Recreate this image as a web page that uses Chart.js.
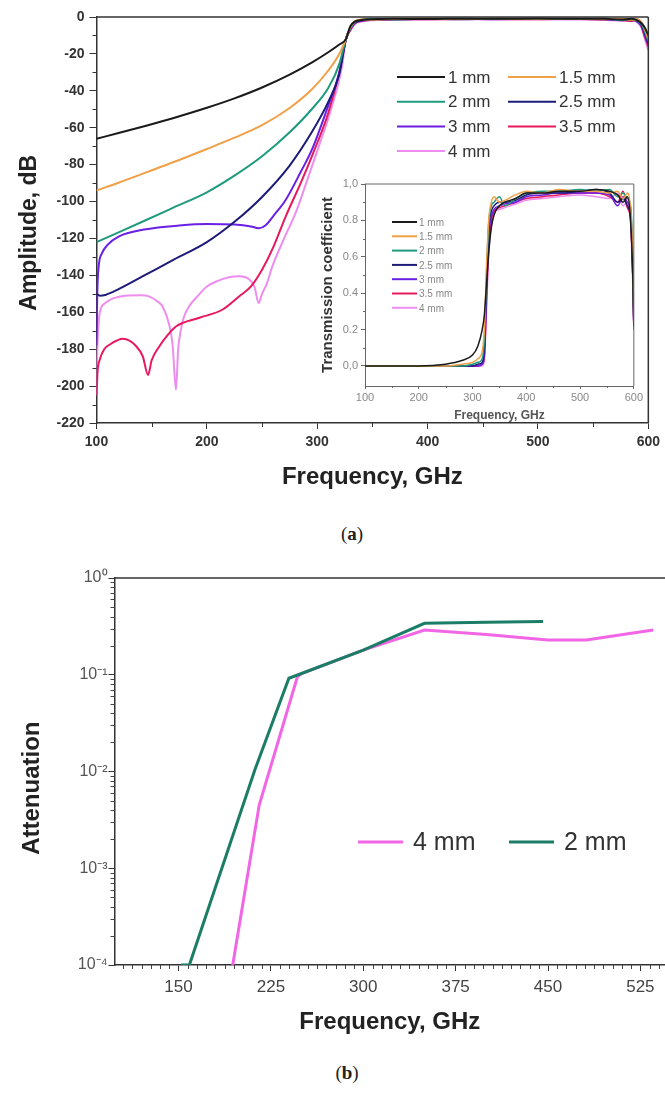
<!DOCTYPE html>
<html>
<head>
<meta charset="utf-8">
<script src="https://cdn.jsdelivr.net/npm/chart.js@4.4.1/dist/chart.umd.min.js"></script>
<style>
  body { margin: 0; background: #fff; width: 665px; height: 1106px; position: relative; overflow: hidden; }
  .box { position: absolute; }
  .cap { position: absolute; font-family: "Liberation Serif", "DejaVu Serif", serif; font-size: 19px; color: #222; transform: translate(-50%, -50%); }
</style>
</head>
<body>
<div class="box" style="left:0;top:0"><canvas id="main" width="665" height="500"></canvas></div>
<div class="box" style="left:300px;top:172px"><canvas id="inset" width="345" height="252"></canvas></div>
<div class="cap" style="left:352px;top:534px">(<b>a</b>)</div>
<div class="box" style="left:0;top:560px"><canvas id="atten" width="665" height="480"></canvas></div>
<div class="cap" style="left:347px;top:1073px">(<b>b</b>)</div>
<script>
const FONT = '"Liberation Sans", Arial, sans-serif';

// ---- (a) amplitude vs frequency ----
const labels = ["1 mm", "1.5 mm", "2 mm", "2.5 mm", "3 mm", "3.5 mm", "4 mm"];
const colors = ["#1a1a1a", "#f0a048", "#1f9a7e", "#1c1c78", "#6a1fe4", "#e8185c", "#ef8cef"];

const passFreq = [330, 334, 340, 350, 370, 400, 430, 460, 500, 530, 560, 575, 585, 590, 594, 597, 600];

const stopFreq1 = [100, 120, 145, 170, 200, 225, 250, 275, 295, 310, 320, 326];
const stopAmp1 = [-66, -62.9, -58.9, -54.7, -49.2, -44.1, -38.2, -31.2, -24.7, -19.1, -14.9, -12];
const passAmp1 = [-5, -2.5, -1.6, -1.2, -1, -1.1, -0.9, -1, -0.8, -1, -0.9, -1.4, -1, -1.8, -3.5, -6, -10];

const stopFreq15 = [100, 120, 145, 170, 200, 225, 250, 275, 295, 310, 320, 326];
const stopAmp15 = [-94, -89.8, -84.2, -78.6, -71.5, -65.4, -58.6, -49.3, -39.3, -29, -20, -12];
const passAmp15 = [-5.5, -2.3, -1.3, -1.5, -0.9, -0.8, -1.1, -0.8, -1, -0.8, -1.2, -0.9, -1.5, -1.2, -3, -7, -12];

const stopFreq2 = [100, 120, 145, 170, 200, 225, 250, 275, 295, 310, 320, 326];
const stopAmp2 = [-122, -116.7, -110, -103.2, -95, -86, -75.5, -62.5, -50, -38.5, -25.5, -12];
const passAmp2 = [-6, -2.8, -1.5, -1, -1.3, -0.9, -0.8, -1, -0.9, -1.1, -0.8, -1.6, -1.1, -2, -4, -8, -13];

const stopFreq25 = [100, 103, 108, 120, 145, 170, 200, 225, 250, 275, 295, 310, 320, 326];
const stopAmp25 = [-150, -151, -150.6, -147.5, -139.5, -131.5, -122, -111, -97.5, -80.5, -62.5, -46, -31, -12];
const passAmp25 = [-6, -3, -1.8, -1.4, -1.1, -1, -1.2, -0.9, -1, -0.9, -1.1, -1.3, -1.8, -1.4, -4.5, -9, -14];

const stopFreq3 = [100, 100.7, 102, 105, 110, 120, 145, 175, 200, 225, 240, 247, 253, 260, 271.5, 285, 295.5, 310, 320, 326];
const stopAmp3 = [-178, -150, -135, -128, -123.5, -119, -115, -113, -112.2, -112.5, -113.5, -114.5, -113, -108, -99, -84, -71.5, -48, -30, -12];
const passAmp3 = [-6.5, -3.2, -2, -1.6, -1.2, -1.1, -1, -1.2, -1, -1.1, -1.3, -1.8, -1.2, -2.5, -5, -10, -15];

const stopFreq35 = [100, 101, 103, 107, 112, 124, 136, 142, 146.7, 150, 157, 165, 172.3, 193.3, 214.3, 229.4, 240, 250, 260, 271.5, 285, 295.5, 310, 320, 326];
const stopAmp35 = [-205, -192, -185.6, -180, -177.5, -174.4, -178.4, -184, -194, -186, -178.4, -172, -167.6, -163, -158.5, -151.3, -146, -137, -125, -108, -90, -75, -52, -30, -12];
const passAmp35 = [-7, -3.5, -2.2, -1.5, -1.3, -1.2, -1.1, -1.1, -1.2, -1, -1.4, -1.6, -2.2, -1.5, -5.5, -11, -16];

const stopFreq4 = [100, 100.5, 101.5, 103, 108, 115, 126, 140, 148, 155, 160, 166, 169, 172, 174, 176, 179, 184, 192, 200, 210, 220, 230, 238, 243, 247, 250, 254, 259.4, 270, 280.5, 290, 301.5, 312, 322.5, 326];
const stopAmp4 = [-205, -185, -170, -160, -155, -152.5, -151, -150.8, -151.5, -154, -157, -167, -178, -202, -180, -171, -163, -156.7, -151, -146, -143, -141, -140.5, -142, -146, -155, -150, -145, -135, -120, -106, -90, -70, -51, -26.7, -12];
const passAmp4 = [-7.5, -3.8, -2.4, -1.8, -1.4, -1.3, -1.2, -1.3, -1.2, -1.3, -1.5, -2, -1.6, -3, -6, -12, -18];

const stopFreqs = [stopFreq1, stopFreq15, stopFreq2, stopFreq25, stopFreq3, stopFreq35, stopFreq4];
const stopAmps = [stopAmp1, stopAmp15, stopAmp2, stopAmp25, stopAmp3, stopAmp35, stopAmp4];
const passAmps = [passAmp1, passAmp15, passAmp2, passAmp25, passAmp3, passAmp35, passAmp4];

// ---- inset: transmission coefficient ----
const insetFreq = [100, 200, 250, 280, 300, 310, 318, 322, 326, 330, 335, 340, 350, 360, 380, 400, 430, 460, 500, 530, 555, 570, 580, 588, 594, 598, 600];
const trans1 = [0, 0, 0.01, 0.03, 0.06, 0.11, 0.2, 0.28, 0.45, 0.62, 0.76, 0.83, 0.88, 0.9, 0.92, 0.95, 0.95, 0.96, 0.96, 0.97, 0.96, 0.94, 0.9, 0.93, 0.8, 0.5, 0.22];
const trans15 = [0, 0, 0, 0.01, 0.02, 0.04, 0.08, 0.2, 0.55, 0.8, 0.9, 0.93, 0.9, 0.91, 0.94, 0.96, 0.95, 0.97, 0.96, 0.96, 0.95, 0.96, 0.92, 0.95, 0.86, 0.6, 0.25];
const trans2 = [0, 0, 0, 0, 0.01, 0.02, 0.04, 0.15, 0.5, 0.78, 0.88, 0.9, 0.93, 0.88, 0.92, 0.95, 0.96, 0.96, 0.97, 0.96, 0.97, 0.93, 0.95, 0.92, 0.88, 0.6, 0.24];
const trans25 = [0, 0, 0, 0, 0, 0.01, 0.02, 0.1, 0.45, 0.75, 0.85, 0.88, 0.9, 0.9, 0.91, 0.94, 0.95, 0.95, 0.96, 0.97, 0.95, 0.9, 0.92, 0.88, 0.82, 0.5, 0.22];
const trans3 = [0, 0, 0, 0, 0, 0, 0.01, 0.06, 0.4, 0.7, 0.82, 0.86, 0.88, 0.89, 0.9, 0.93, 0.94, 0.95, 0.95, 0.95, 0.94, 0.88, 0.93, 0.9, 0.84, 0.55, 0.22];
const trans35 = [0, 0, 0, 0, 0, 0, 0.01, 0.05, 0.35, 0.65, 0.8, 0.85, 0.87, 0.88, 0.9, 0.92, 0.93, 0.94, 0.95, 0.95, 0.93, 0.9, 0.96, 0.87, 0.8, 0.5, 0.2];
const trans4 = [0, 0, 0, 0, 0, 0, 0, 0.03, 0.3, 0.6, 0.78, 0.84, 0.86, 0.87, 0.89, 0.91, 0.92, 0.93, 0.94, 0.93, 0.92, 0.95, 0.88, 0.9, 0.78, 0.45, 0.2];
const transAll = [trans1, trans15, trans2, trans25, trans3, trans35, trans4];
const insetYTicks = [0, 0.2, 0.4, 0.6, 0.8, 1.0];
const insetYLabels = ["0,0", "0.2", "0.4", "0.6", "0.8", "1,0"];

// ---- (b) attenuation ----
const attFreq4 = [194, 215.5, 246.6, 250.5, 300, 349.7, 400, 449.8, 481, 535.5];
const att4 = [0.0001, 0.0045, 0.096, 0.1035, 0.18, 0.29, 0.26, 0.229, 0.229, 0.29];
const attFreq2 = [152, 158.8, 212, 239.6, 300, 349.7, 400, 446];
const att2 = [0.0001, 0.0001, 0.0104, 0.092, 0.18, 0.34, 0.348, 0.355];
const attXTicks = [150, 225, 300, 375, 450, 525];
const attYTicks = [0.0001, 0.001, 0.01, 0.1, 1];
const attYLabels = ["10\u207B\u2074", "10\u207B\u00B3", "10\u207B\u00B2", "10\u207B\u00B9", "10\u2070"];

// ---------- small helper plugins ----------
function frame(sides, color, width) {
  return {
    id: "frame",
    afterDatasetsDraw(chart) {
      const { left, right, top, bottom } = chart.chartArea;
      const ctx = chart.ctx;
      ctx.save();
      ctx.strokeStyle = color;
      ctx.lineWidth = width;
      ctx.beginPath();
      if (sides.includes("top")) { ctx.moveTo(left, top); ctx.lineTo(right, top); }
      if (sides.includes("right")) { ctx.moveTo(right, top); ctx.lineTo(right, bottom); }
      ctx.stroke();
      ctx.restore();
    },
  };
}

function minorTicks(xs, ys, len, color) {
  return {
    id: "minorTicks",
    afterDraw(chart) {
      const ctx = chart.ctx;
      const sx = chart.scales.x, sy = chart.scales.y;
      ctx.save();
      ctx.strokeStyle = color;
      ctx.lineWidth = 1;
      ctx.beginPath();
      xs.forEach((v) => {
        const p = Math.round(sx.getPixelForValue(v)) + 0.5;
        ctx.moveTo(p, sx.top);
        ctx.lineTo(p, sx.top + len);
      });
      ys.forEach((v) => {
        const p = Math.round(sy.getPixelForValue(v)) + 0.5;
        ctx.moveTo(sy.right, p);
        ctx.lineTo(sy.right - len, p);
      });
      ctx.stroke();
      ctx.restore();
    },
  };
}

function inlineLegend(cfg) {
  return {
    id: "inlineLegend",
    afterDraw(chart) {
      const ctx = chart.ctx;
      ctx.save();
      ctx.font = cfg.font;
      ctx.textBaseline = "middle";
      chart.data.datasets.forEach((ds, i) => {
        const col = i % cfg.cols;
        const row = Math.floor(i / cfg.cols);
        const x = cfg.x + col * cfg.colW;
        const y = cfg.y + row * cfg.rowH;
        ctx.strokeStyle = ds.borderColor;
        ctx.lineWidth = cfg.lineW;
        ctx.beginPath();
        ctx.moveTo(x, y);
        ctx.lineTo(x + cfg.lineLen, y);
        ctx.stroke();
        ctx.fillStyle = cfg.color;
        ctx.fillText(ds.label, x + cfg.lineLen + cfg.gap, y + 1);
      });
      ctx.restore();
    },
  };
}

const toPoints = (xs, ys) => xs.map((x, i) => ({ x: x, y: ys[i] }));

// ---------- main chart (a) ----------
const mainMinorX = [150, 250, 350, 450, 550];
const mainMinorY = [-10, -30, -50, -70, -90, -110, -130, -150, -170, -190, -210];

new Chart(document.getElementById("main"), {
  type: "line",
  data: {
    datasets: labels.map((lab, i) => ({
      label: lab,
      data: toPoints(stopFreqs[i].concat(passFreq), stopAmps[i].concat(passAmps[i])),
      borderColor: colors[i],
      borderWidth: 2,
      pointRadius: 0,
      cubicInterpolationMode: "monotone",
    })),
  },
  options: {
    responsive: false,
    animation: false,
    layout: { padding: { top: 17, right: 14, left: 0, bottom: 0 } },
    plugins: { legend: { display: false }, tooltip: { enabled: false } },
    scales: {
      x: {
        type: "linear",
        min: 100,
        max: 600,
        afterFit: (s) => { s.height = 77; },
        ticks: { stepSize: 100, padding: 5, color: "#333", font: { family: FONT, size: 14, weight: "bold" } },
        grid: { drawOnChartArea: false, tickLength: 6, color: "#333" },
        border: { color: "#333", width: 1.5 },
        title: { display: true, text: "Frequency, GHz", color: "#222", padding: { bottom: 8 }, font: { family: FONT, size: 24, weight: "bold" } },
      },
      y: {
        min: -220,
        max: 0,
        afterFit: (s) => { s.width = 96.5; },
        ticks: { stepSize: 20, padding: 5, color: "#333", callback: (v) => String(v), font: { family: FONT, size: 14, weight: "bold" } },
        grid: { drawOnChartArea: false, tickLength: 7, color: "#333" },
        border: { color: "#333", width: 1.5 },
        title: { display: true, text: "Amplitude, dB    ", color: "#222", padding: { top: 16 }, font: { family: FONT, size: 23, weight: "bold" } },
      },
    },
  },
  plugins: [
    frame(["top", "right"], "#333", 1.5),
    minorTicks(mainMinorX, mainMinorY, 4, "#333"),
    inlineLegend({ x: 397, y: 77, cols: 2, colW: 111, rowH: 24.7, lineLen: 48, gap: 3, lineW: 2, color: "#333", font: "17px " + FONT }),
  ],
});

// ---------- inset ----------
const insetMinorX = [150, 250, 350, 450, 550];
const insetMinorY = [0.1, 0.3, 0.5, 0.7, 0.9];

new Chart(document.getElementById("inset"), {
  type: "line",
  data: {
    datasets: labels.map((lab, i) => ({
      label: lab,
      data: toPoints(insetFreq, transAll[i]),
      borderColor: colors[i],
      borderWidth: 1.5,
      pointRadius: 0,
      cubicInterpolationMode: "monotone",
    })),
  },
  options: {
    responsive: false,
    animation: false,
    layout: { padding: { top: 12, right: 7, left: 0, bottom: 0 } },
    plugins: { legend: { display: false }, tooltip: { enabled: false } },
    scales: {
      x: {
        type: "linear",
        min: 100,
        max: 600,
        afterFit: (s) => { s.height = 38; },
        ticks: { stepSize: 100, padding: 2, color: "#888", font: { family: FONT, size: 11 } },
        grid: { drawOnChartArea: false, tickLength: 3, color: "#666" },
        border: { color: "#666", width: 1 },
        title: { display: true, text: "Frequency, GHz", color: "#555", padding: { bottom: 1 }, font: { family: FONT, size: 12, weight: "bold" } },
      },
      y: {
        min: -0.11,
        max: 1.0,
        afterFit: (s) => { s.width = 65; },
        afterBuildTicks: (s) => { s.ticks = insetYTicks.map((v) => ({ value: v })); },
        ticks: { padding: 3, color: "#888", callback: (v, i) => insetYLabels[i], font: { family: FONT, size: 11 } },
        grid: { drawOnChartArea: false, tickLength: 4, color: "#666" },
        border: { color: "#666", width: 1 },
        title: { display: true, text: "Transmission coefficient", color: "#333", padding: { top: 19 }, font: { family: FONT, size: 15, weight: "bold" } },
      },
    },
  },
  plugins: [
    frame(["top", "right"], "#666", 1),
    minorTicks(insetMinorX, insetMinorY, 2, "#666"),
    inlineLegend({ x: 92, y: 50, cols: 1, colW: 0, rowH: 14.3, lineLen: 25, gap: 2, lineW: 2, color: "#888", font: "10px " + FONT }),
  ],
});

// ---------- attenuation chart (b) ----------
const attMinorX = [105, 112.5, 120, 127.5, 135, 142.5, 157.5, 165, 172.5, 180, 187.5, 195, 202.5, 210, 217.5, 232.5, 240, 247.5, 255, 262.5, 270, 277.5, 285, 292.5, 307.5, 315, 322.5, 330, 337.5, 345, 352.5, 360, 367.5, 382.5, 390, 397.5, 405, 412.5, 420, 427.5, 435, 442.5, 457.5, 465, 472.5, 480, 487.5, 495, 502.5, 510, 517.5, 532.5, 540];
const attMinorY = [2e-4, 3e-4, 4e-4, 5e-4, 6e-4, 7e-4, 8e-4, 9e-4, 2e-3, 3e-3, 4e-3, 5e-3, 6e-3, 7e-3, 8e-3, 9e-3, 0.02, 0.03, 0.04, 0.05, 0.06, 0.07, 0.08, 0.09, 0.2, 0.3, 0.4, 0.5, 0.6, 0.7, 0.8, 0.9];

new Chart(document.getElementById("atten"), {
  type: "line",
  data: {
    datasets: [
      { label: "4 mm", data: toPoints(attFreq4, att4), borderColor: "#f266e6", borderWidth: 3, pointRadius: 0, order: 1 },
      { label: "2 mm", data: toPoints(attFreq2, att2), borderColor: "#1b7d66", borderWidth: 3, pointRadius: 0, order: 0 },
    ],
  },
  options: {
    responsive: false,
    animation: false,
    layout: { padding: { top: 18, right: 0, left: 0, bottom: 0 } },
    plugins: { legend: { display: false }, tooltip: { enabled: false } },
    scales: {
      x: {
        type: "linear",
        min: 98,
        max: 545,
        afterFit: (s) => { s.height = 75; },
        afterBuildTicks: (s) => { s.ticks = attXTicks.map((v) => ({ value: v })); },
        ticks: { padding: 6, color: "#444", font: { family: FONT, size: 17 } },
        grid: { drawOnChartArea: false, tickLength: 6, color: "#333" },
        border: { color: "#333", width: 1.5 },
        title: { display: true, text: "Frequency, GHz", color: "#222", padding: { bottom: 3 }, font: { family: FONT, size: 24, weight: "bold" } },
      },
      y: {
        type: "logarithmic",
        min: 0.0001,
        max: 1,
        afterFit: (s) => { s.width = 114.5; },
        afterBuildTicks: (s) => { s.ticks = attYTicks.map((v) => ({ value: v })); },
        ticks: { padding: 1, color: "#555", callback: (v, i) => attYLabels[i], font: { family: FONT, size: 16 } },
        grid: { drawOnChartArea: false, tickLength: 6, color: "#333" },
        border: { color: "#333", width: 1.5 },
        title: { display: true, text: "Attenuation     ", color: "#222", padding: { top: 18 }, font: { family: FONT, size: 24, weight: "bold" } },
      },
    },
  },
  plugins: [
    frame(["top"], "#333", 1.5),
    minorTicks(attMinorX, attMinorY, 4, "#444"),
    inlineLegend({ x: 358, y: 282, cols: 2, colW: 151, lineLen: 45, gap: 10, rowH: 0, lineW: 3, color: "#333", font: "25px " + FONT }),
  ],
});
</script>
</body>
</html>
